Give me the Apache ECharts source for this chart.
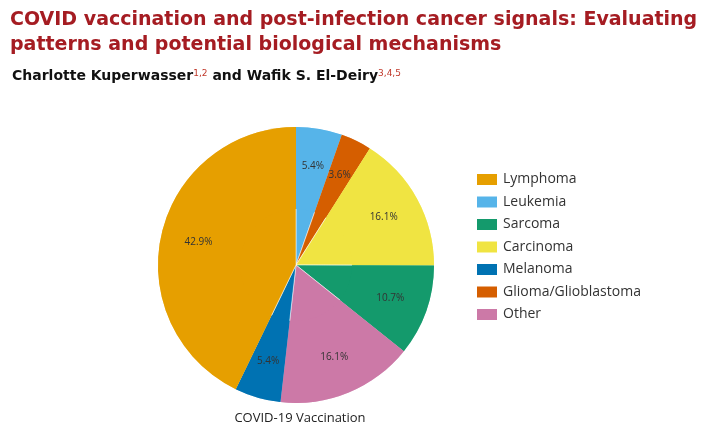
<!DOCTYPE html>
<html><head><meta charset="utf-8">
<script src="https://cdn.jsdelivr.net/npm/echarts@6/dist/echarts.min.js"></script>
<style>html,body{margin:0;padding:0;background:#fff}#c{width:709px;height:437px}</style>
</head><body><div id="c"></div>
<script>
const categories = ["Leukemia","Glioma/Glioblastoma","Carcinoma","Sarcoma","Other","Melanoma","Lymphoma"];
const values = [5.4,3.6,16.1,10.7,16.1,5.4,42.9];
const colors = ["#56B4E9","#D55E00","#F0E442","#149A6C","#CC79A7","#0072B2","#E69F00"];
const legendOrder = ["Lymphoma","Leukemia","Sarcoma","Carcinoma","Melanoma","Glioma/Glioblastoma","Other"];
const data = categories.map((n,i)=>({name:n,value:values[i],itemStyle:{color:colors[i]}}));
const chart = echarts.init(document.getElementById('c'));
chart.setOption({
  animation:false,
  legend:{data:legendOrder,orient:'vertical',left:470,top:167,itemWidth:22,itemHeight:13,itemGap:7.5,
    textStyle:{fontFamily:'Open Sans',fontSize:14,color:'#333'},icon:'rect',selectedMode:false},
  graphic:[
    {type:'text',left:10,top:8,style:{text:'COVID vaccination and post-infection cancer signals: Evaluating\npatterns and potential biological mechanisms',
      font:'bold 19px "DejaVu Sans"',fill:'#A51C22',lineHeight:25}},
    {type:'text',left:12,top:69,style:{text:'{n|Charlotte Kuperwasser}{s|1,2}{n| and Wafik S. El-Deiry}{s|3,4,5}',
      rich:{n:{font:'bold 14px "DejaVu Sans"',fill:'#111'},s:{font:'9px "DejaVu Sans"',fill:'#C0392B',verticalAlign:'top',padding:[0,0,6,0]}}}},
    {type:'text',x:300,y:418,style:{text:'COVID-19 Vaccination',font:'13px "Open Sans"',fill:'#222',align:'center',verticalAlign:'middle'}}
  ],
  series:[
    {type:'pie',center:[296,265],radius:[0,138],data:data,silent:true,label:{show:false},labelLine:{show:false},
      itemStyle:{borderColor:'#fff',borderWidth:0.5}},
    {type:'pie',center:[296,265],radius:[56,138],data:data,silent:true,
      itemStyle:{color:'transparent',borderWidth:0},
      label:{show:true,position:'inside',formatter:p=>p.value.toFixed(1)+'%',fontSize:10,color:'#333',fontFamily:'Open Sans'},labelLine:{show:false}}
  ]
});
</script></body></html>
